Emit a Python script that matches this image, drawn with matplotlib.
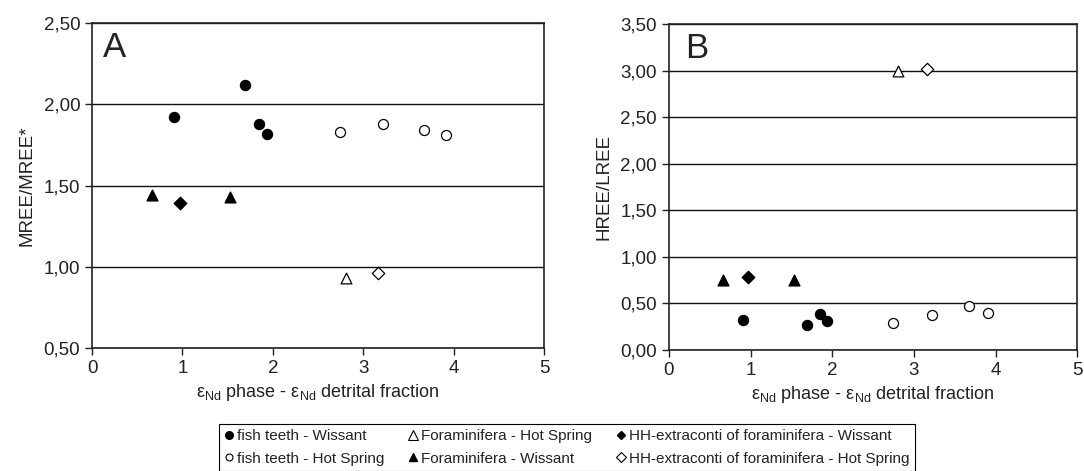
import matplotlib
matplotlib.use("Agg")
import matplotlib.pyplot as plt
from matplotlib.lines import Line2D
from matplotlib.ticker import FuncFormatter

plt.rcParams["font.family"] = ["Liberation Sans", "DejaVu Sans"]
plt.rcParams["mathtext.fontset"] = "custom"
plt.rcParams["mathtext.rm"] = "Liberation Sans"
plt.rcParams["mathtext.it"] = "Liberation Sans:italic"

# x = eps_Nd phase - eps_Nd detrital fraction (shared by both panels)
fish_w_x = [0.91, 1.69, 1.85, 1.94]
fish_hs_x = [2.74, 3.22, 3.67, 3.91]
foram_w_x = [0.66, 1.53]
foram_hs_x = [2.81]
hh_w_x = [0.97]
hh_hs_x = [3.16]

# panel A: MREE/MREE*
fish_w_a = [1.92, 2.12, 1.88, 1.82]
fish_hs_a = [1.83, 1.88, 1.84, 1.81]
foram_w_a = [1.44, 1.43]
foram_hs_a = [0.93]
hh_w_a = [1.39]
hh_hs_a = [0.96]

# panel B: HREE/LREE
fish_w_b = [0.32, 0.27, 0.39, 0.31]
fish_hs_b = [0.29, 0.38, 0.47, 0.40]
foram_w_b = [0.75, 0.75]
foram_hs_b = [3.00]
hh_w_b = [0.78]
hh_hs_b = [3.02]

x_ticks = [0, 1, 2, 3, 4, 5]
a_ticks = [0.5, 1.0, 1.5, 2.0, 2.5]
b_ticks = [0.0, 0.5, 1.0, 1.5, 2.0, 2.5, 3.0, 3.5]

labels = [
    "fish teeth - Wissant",
    "fish teeth - Hot Spring",
    "Foraminifera - Hot Spring",
    "Foraminifera - Wissant",
    "HH-extraconti of foraminifera - Wissant",
    "HH-extraconti of foraminifera - Hot Spring",
]

TXT = "#222222"
comma = FuncFormatter(lambda v, _: f"{v:.2f}".replace(".", ","))
xlabel = (r"$\mathregular{\varepsilon_{Nd}}$ phase - "
          r"$\mathregular{\varepsilon_{Nd}}$ detrital fraction")


def draw_panel(ax, ys, ticks, letter, ylabel, letter_x):
    fw, fhs, frw, frhs, hw, hhs = ys
    ax.scatter(fish_w_x, fw, s=52, marker="o", c="black", zorder=3)
    ax.scatter(fish_hs_x, fhs, s=52, marker="o", facecolors="white",
               edgecolors="black", linewidths=0.9, zorder=3)
    ax.scatter(foram_w_x, frw, s=60, marker="^", c="black", zorder=3)
    ax.scatter(foram_hs_x, frhs, s=60, marker="^", facecolors="white",
               edgecolors="black", linewidths=0.9, zorder=3)
    ax.scatter(hh_w_x, hw, s=40, marker="D", c="black", zorder=3)
    ax.scatter(hh_hs_x, hhs, s=40, marker="D", facecolors="white",
               edgecolors="black", linewidths=0.9, zorder=3)

    ax.set_xlim(0, 5)
    ax.set_ylim(ticks[0], ticks[-1])
    ax.set_xticks(x_ticks)
    ax.set_yticks(ticks)
    ax.yaxis.set_major_formatter(comma)
    ax.yaxis.grid(True, color="#111111", linewidth=1.0)
    ax.set_axisbelow(True)
    ax.tick_params(direction="out", length=5, width=1, colors="#222222",
                   labelcolor=TXT, labelsize=13.5)
    for sp in ax.spines.values():
        sp.set_color("#222222")
        sp.set_linewidth(1.2)
    ax.set_xlabel(xlabel, fontsize=13, color=TXT, labelpad=4)
    ax.set_ylabel(ylabel, fontsize=13.5, color=TXT, labelpad=6)
    ax.text(letter_x, 0.975, letter, transform=ax.transAxes, fontsize=25,
            color=TXT, ha="left", va="top")


fig = plt.figure(figsize=(10.84, 4.71), dpi=100)
ax_a = fig.add_axes([0.0849, 0.261, 0.417, 0.690])
ax_b = fig.add_axes([0.617, 0.257, 0.377, 0.692])

draw_panel(ax_a, (fish_w_a, fish_hs_a, foram_w_a, foram_hs_a, hh_w_a, hh_hs_a),
           a_ticks, "A", "MREE/MREE*", 0.025)
draw_panel(ax_b, (fish_w_b, fish_hs_b, foram_w_b, foram_hs_b, hh_w_b, hh_hs_b),
           b_ticks, "B", "HREE/LREE", 0.04)

handles = [
    Line2D([], [], ls="none", marker="o", ms=5.5, mfc="black", mec="black"),
    Line2D([], [], ls="none", marker="o", ms=5, mfc="white", mec="black", mew=0.8),
    Line2D([], [], ls="none", marker="^", ms=6.5, mfc="white", mec="black", mew=0.8),
    Line2D([], [], ls="none", marker="^", ms=5.5, mfc="black", mec="black"),
    Line2D([], [], ls="none", marker="D", ms=4.5, mfc="black", mec="black"),
    Line2D([], [], ls="none", marker="D", ms=5, mfc="white", mec="black", mew=0.8),
]
leg = fig.legend(handles, labels, ncol=3, loc="center",
                 bbox_to_anchor=(0.523, 0.050), fontsize=11,
                 handlelength=0.6, handletextpad=0.25, columnspacing=1.55,
                 borderpad=0.35, labelspacing=0.55, fancybox=False,
                 edgecolor="black", framealpha=1)
leg.get_frame().set_linewidth(0.8)
for t in leg.get_texts():
    t.set_color(TXT)

fig.savefig("out.png", dpi=100)
